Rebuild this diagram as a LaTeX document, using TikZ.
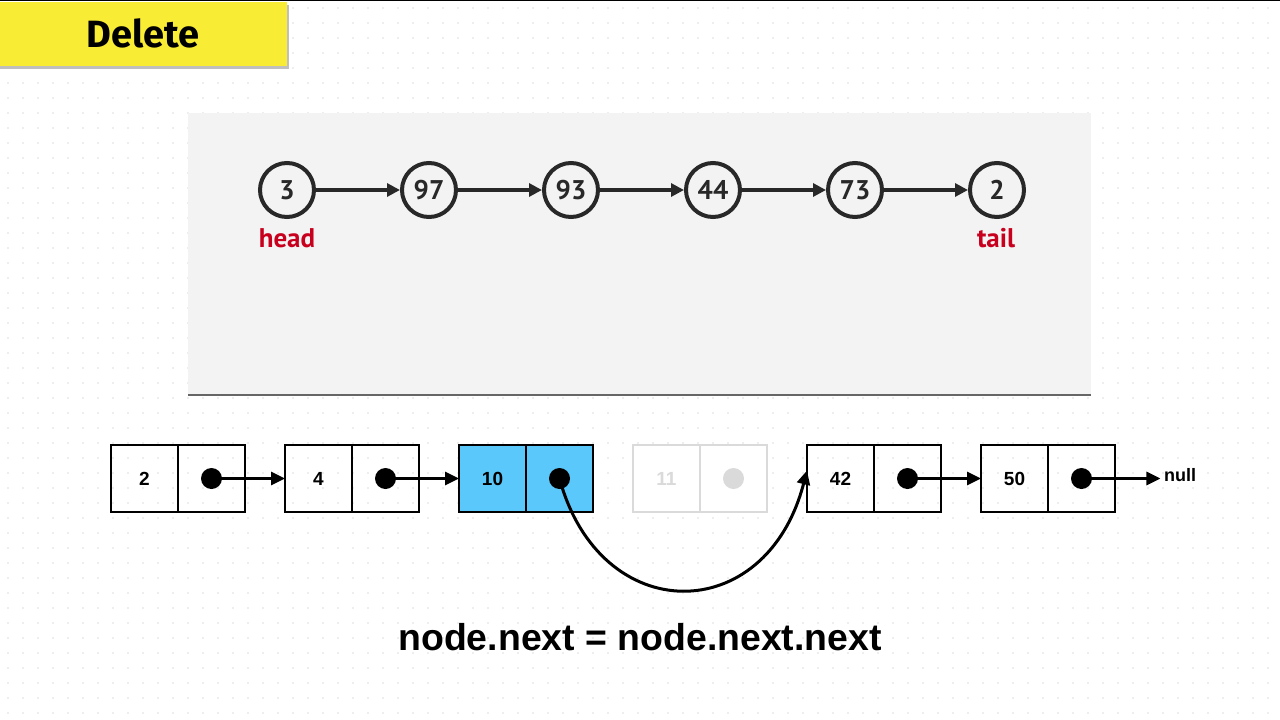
\documentclass[tikz,border=0pt]{standalone}
\usepackage{fontspec}
\setmainfont{Liberation Sans}
\newfontfamily\titlefont{Fira Sans}
\newfontfamily\ringfont{PT Sans}
\usetikzlibrary{arrows.meta,positioning}

\definecolor{bannerYellow}{RGB}{249,236,52}
\definecolor{panelGray}{RGB}{243,243,243}
\definecolor{ringDark}{RGB}{40,40,40}
\definecolor{labelRed}{RGB}{200,0,30}
\definecolor{cellBlue}{RGB}{90,200,250}
\definecolor{ghostGray}{RGB}{218,218,218}

\tikzset{
  ring/.style={circle, draw=ringDark, line width=4pt, minimum size=54pt, inner sep=0pt,
    font=\ringfont\bfseries\fontsize{27}{27}\selectfont, text=ringDark},
  ringlink/.style={draw=ringDark, line width=3.2pt, -{Triangle[length=13pt,width=13pt]}},
  endlabel/.style={font=\ringfont\bfseries\fontsize{27}{27}\selectfont, text=labelRed},
  cell/.style={rectangle, draw, line width=2pt, minimum width=67pt, minimum height=67pt,
    inner sep=0pt, outer sep=0pt, font=\bfseries\fontsize{19}{19}\selectfont},
  dotmark/.style={circle, fill, minimum size=21pt, inner sep=0pt},
  link/.style={line width=3pt, -{Triangle[length=14pt,width=13pt]}}
}

\begin{document}
\begin{tikzpicture}[x=1pt,y=-1pt]
  \useasboundingbox (0,0) rectangle (1280,720);
  \fill[white] (0,0) rectangle (1280,720);
  % dotted paper
  \foreach \x in {8,23,...,1280}
    \foreach \y in {8,23,...,720}
      \fill[black!13] (\x,\y) circle (0.8);
  \draw[black, line width=1.5pt] (0,0.5) -- (1280,0.5);

  % title banner
  \fill[black!25] (0,5) rectangle (289,69);
  \fill[bannerYellow] (0,2) rectangle (287,66);
  \node (title) at (143,33) {\titlefont\bfseries\fontsize{38}{38}\selectfont Delete};

  % panel with the small list
  \fill[panelGray] (188,113) rectangle (1091,395);
  \draw[black!60, line width=2pt] (188,395) -- (1091,395);

  \foreach \v [count=\i, evaluate=\i as \cx using 287+142*(\i-1)] in {3,97,93,44,73,2}
    \node[ring] (c\i) at (\cx,190) {\v};
  \foreach \i [evaluate=\i as \j using int(\i+1)] in {1,...,5}
    \draw[ringlink] (c\i) -- (c\j);
  \node[endlabel] (head) at (287,238) {head};
  \node[endlabel] (tail) at (996,238) {tail};

  % boxes
  \foreach \v [count=\i, evaluate=\i as \bx using 144.5+174*(\i-1)] in {2,4,10,11,42,50}
  {
    \node[cell] (d\i) at (\bx,478.5) {\v};
    \node[cell, right=0pt of d\i] (n\i) {};
  }
  % highlighted and removed node
  \node[cell, fill=cellBlue] at (d3) {10};
  \node[cell, fill=cellBlue] at (n3) {};
  \node[cell, draw=ghostGray, fill=white, text=ghostGray] at (d4) {11};
  \node[cell, draw=ghostGray, fill=white] at (n4) {};

  \foreach \i in {1,2,3,5,6}
    \node[dotmark] (dot\i) at (n\i) {};
  \node[dotmark, fill=ghostGray] (dot4) at (n4) {};

  \node[font=\bfseries\fontsize{18}{18}\selectfont] (null) at (1180,475) {null};

  \draw[link] (dot1.center) -- (d2.west);
  \draw[link] (dot2.center) -- (d3.west);
  \draw[link] (dot5.center) -- (d6.west);
  \draw[link] (dot6.center) -- (dot6.center -| null.west);
  \draw[link] (dot3.center) .. controls (600,628) and (766,628) .. ([yshift=8pt]d5.west);

  \node[font=\bfseries\fontsize{37.4}{37.4}\selectfont] (rule) at (640,637) {node.next = node.next.next};
\end{tikzpicture}
\end{document}
